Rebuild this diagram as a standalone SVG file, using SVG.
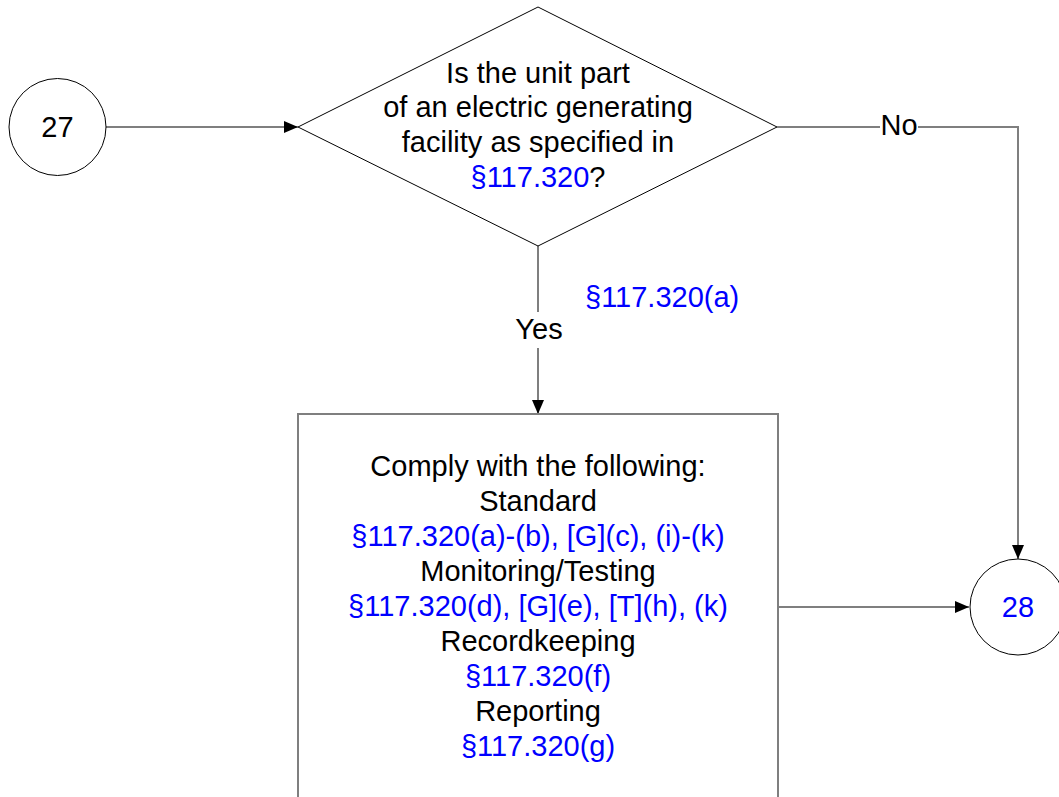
<svg xmlns="http://www.w3.org/2000/svg" width="1059" height="797" viewBox="0 0 1059 797">
<style>
text{font-family:"Liberation Sans",Arial,sans-serif;font-size:29px;fill:#000}
.c{text-anchor:middle}
.b{fill:#0000ff}
.shape{fill:#fff;stroke:#000;stroke-width:1}
.conn{fill:none;stroke:#7f7f7f;stroke-width:2}
.bg{fill:#fff;stroke:none}
</style>
<defs>
<marker id="ah" viewBox="0 0 14 12" refX="14" refY="6" markerWidth="14" markerHeight="12" markerUnits="userSpaceOnUse" orient="auto">
<path d="M0,0 L14,6 L0,12 Z" fill="#000"/>
</marker>
</defs>
<g id="connectors">
<line class="conn" x1="106" y1="127" x2="298" y2="127" marker-end="url(#ah)"/>
<polyline class="conn" points="777,127 1018,127 1018,559" marker-end="url(#ah)"/>
<line class="conn" x1="538" y1="246" x2="538" y2="414" marker-end="url(#ah)"/>
<line class="conn" x1="778" y1="607" x2="969" y2="607" marker-end="url(#ah)"/>
<rect class="bg" x="880" y="112" width="38" height="28"/>
<text class="c" x="899" y="135">No</text>
<rect class="bg" x="512" y="312" width="52" height="36"/>
<text class="c" x="539" y="339">Yes</text>
<text class="b" x="585" y="307">§117.320(a)</text>
</g>
<g id="node27">
<circle class="shape" cx="57.5" cy="127" r="48.5"/>
<text class="c" x="57.5" y="137">27</text>
</g>
<g id="decision">
<polygon class="shape" points="538,7 777,127 538,246 298,127"/>
<text class="c" x="538" y="83">Is the unit part</text>
<text class="c" x="538" y="117">of an electric generating</text>
<text class="c" x="538" y="152">facility as specified in</text>
<text class="c" x="538" y="187"><tspan class="b">§117.320</tspan>?</text>
</g>
<g id="comply">
<rect x="298" y="414" width="480" height="420" fill="#fff" stroke="#7f7f7f" stroke-width="2"/>
<text class="c" x="538" y="476">Comply with the following:</text>
<text class="c" x="538" y="511">Standard</text>
<text class="c b" x="538" y="546">§117.320(a)-(b), [G](c), (i)-(k)</text>
<text class="c" x="538" y="581">Monitoring/Testing</text>
<text class="c b" x="538" y="616">§117.320(d), [G](e), [T](h), (k)</text>
<text class="c" x="538" y="651">Recordkeeping</text>
<text class="c b" x="538" y="686">§117.320(f)</text>
<text class="c" x="538" y="721">Reporting</text>
<text class="c b" x="538" y="756">§117.320(g)</text>
</g>
<g id="node28">
<circle class="shape" cx="1018" cy="607" r="48"/>
<text class="c b" x="1018" y="617">28</text>
</g>
</svg>
